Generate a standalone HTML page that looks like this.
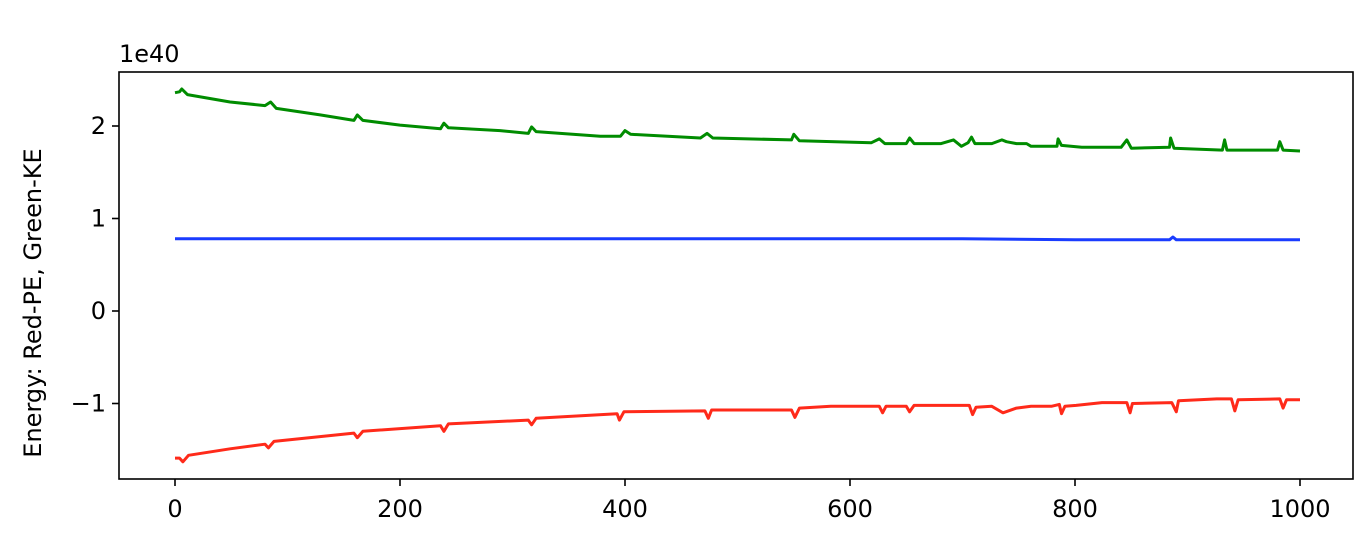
<!DOCTYPE html>
<html><head><meta charset="utf-8"><style>
body{margin:0;background:#fff;}
svg text{font-family:"DejaVu Sans","Liberation Sans",sans-serif;font-size:24px;fill:#000;}
</style></head><body>
<svg id="chart" width="1368" height="530" viewBox="0 0 1368 530" xmlns="http://www.w3.org/2000/svg">
<g id="plot"></g>
</svg>
<script>
const xTicks=[0,200,400,600,800,1000];
const yTicks=[-1,0,1,2];
const greenX=[0,4,6,11,49,80,85,90,129,159,162,167,200,236,239,243,289,314,317,321,378,396,400,405,467,473,478,548,550,555,619,626,631,650,653,657,681,692,699,705,708,711,726,735,739,748,757,761,784,785,788,806,841,846,850,884,885,888,931,933,935,980,982,985,1000];
const greenY=[2.36,2.37,2.40,2.34,2.26,2.22,2.26,2.19,2.12,2.06,2.12,2.06,2.01,1.97,2.03,1.98,1.95,1.92,1.99,1.94,1.89,1.89,1.95,1.91,1.87,1.92,1.87,1.85,1.91,1.84,1.82,1.86,1.81,1.81,1.87,1.81,1.81,1.85,1.78,1.82,1.88,1.81,1.81,1.85,1.83,1.81,1.81,1.78,1.78,1.86,1.79,1.77,1.77,1.85,1.76,1.77,1.87,1.76,1.74,1.85,1.74,1.74,1.83,1.74,1.73];
const redX=[0,4,7,12,49,80,83,88,159,162,167,236,239,243,314,317,321,393,395,399,471,474,477,548,551,555,583,626,629,632,650,653,657,706,709,712,726,736,748,761,779,786,788,791,801,824,846,849,851,886,890,892,926,939,942,945,982,985,988,1000];
const redY=[-1.59,-1.59,-1.63,-1.56,-1.49,-1.44,-1.48,-1.41,-1.32,-1.37,-1.30,-1.24,-1.30,-1.22,-1.18,-1.23,-1.16,-1.11,-1.18,-1.09,-1.08,-1.16,-1.07,-1.07,-1.15,-1.05,-1.03,-1.03,-1.10,-1.03,-1.03,-1.09,-1.02,-1.02,-1.12,-1.04,-1.03,-1.10,-1.05,-1.03,-1.03,-1.01,-1.11,-1.03,-1.02,-0.99,-0.99,-1.10,-1.00,-0.99,-1.09,-0.97,-0.95,-0.95,-1.08,-0.96,-0.95,-1.05,-0.96,-0.96];
const blueX=[0,200,400,600,700,800,884,887,890,1000];
const blueY=[0.78,0.78,0.78,0.78,0.78,0.77,0.77,0.80,0.77,0.77];

const L=119,R=1353,T=72,B=479;
const sx=v=>175+v*1.125;
const sy=v=>311-v*92.5;
const NS="http://www.w3.org/2000/svg";
const g=document.getElementById('plot');
function mk(tag,attrs){const e=document.createElementNS(NS,tag);for(const k in attrs)e.setAttribute(k,attrs[k]);g.appendChild(e);return e;}

function line(xs,ys,color,name){
  const d=xs.map((x,i)=>(i?'L':'M')+sx(x).toFixed(1)+' '+sy(ys[i]).toFixed(1)).join(' ');
  const p=mk('path',{d:d,fill:'none',stroke:color,'stroke-width':3,'stroke-linejoin':'round'});
  
  
}
line(greenX,greenY,'#008c00','kinetic-energy-line');
line(blueX,blueY,'#1a3cff','total-energy-line');
line(redX,redY,'#ff2a1a','potential-energy-line');

const frame=mk('rect',{x:L,y:T,width:R-L,height:B-T,fill:'none',stroke:'#000','stroke-width':1.6});



xTicks.forEach(v=>{
  const x=sx(v);
  const t=mk('line',{x1:x,x2:x,y1:B,y2:B+7,stroke:'#000','stroke-width':1.6});
  
  
  const lb=mk('text',{x:x,y:B+38,'text-anchor':'middle'});
  lb.textContent=String(v);
  
  
});
yTicks.forEach(v=>{
  const y=sy(v);
  const t=mk('line',{x1:L-7,x2:L,y1:y,y2:y,stroke:'#000','stroke-width':1.6});
  
  
  const lb=mk('text',{x:L-13,y:y+8,'text-anchor':'end'});
  lb.textContent=v<0?'\u2212'+Math.abs(v):String(v);
  
  
});
const off=mk('text',{x:119,y:62});
off.textContent='1e40';


const yt=mk('text',{x:0,y:0,'text-anchor':'middle',transform:'translate(41,303) rotate(-90)'});
yt.textContent='Energy: Red-PE, Green-KE';


</script>
</body></html>
